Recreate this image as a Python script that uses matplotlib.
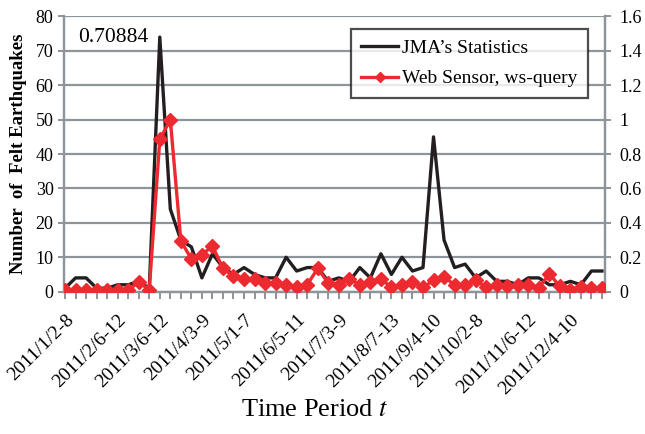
import numpy as np
import matplotlib.pyplot as plt
from matplotlib.lines import Line2D

plt.rcParams['font.family'] = ['Liberation Serif', 'DejaVu Serif']
plt.rcParams['mathtext.fontset'] = 'stix'

# weekly counts of felt earthquakes (JMA) and web sensor estimate
jma = [1, 4, 4, 1, 1, 2, 2, 3, 1, 74,
       24, 15, 13, 4, 11, 7, 5, 7, 5, 4,
       4, 10, 6, 7, 7, 3, 4, 3, 7, 4,
       11, 5, 10, 6, 7, 45, 15, 7, 8, 4,
       6, 3, 3, 2, 4, 4, 2, 2, 3, 2,
       6, 6]
web = [0.01, 0.01, 0.01, 0.01, 0.01, 0.01, 0.01, 0.055, 0.01, 0.885,
       1.0, 0.295, 0.19, 0.215, 0.265, 0.135, 0.09, 0.075, 0.075, 0.05,
       0.05, 0.04, 0.025, 0.04, 0.135, 0.05, 0.04, 0.075, 0.04, 0.055,
       0.075, 0.025, 0.04, 0.055, 0.025, 0.065, 0.085, 0.04, 0.04, 0.065,
       0.025, 0.04, 0.03, 0.04, 0.04, 0.02, 0.105, 0.03, 0.01, 0.025,
       0.02, 0.02]
tick_pos = [0, 5, 9, 13, 17, 22, 26, 31, 35, 39, 44, 48]
tick_labels = ['2011/1/2-8', '2011/2/6-12', '2011/3/6-12', '2011/4/3-9',
               '2011/5/1-7', '2011/6/5-11', '2011/7/3-9', '2011/8/7-13',
               '2011/9/4-10', '2011/10/2-8', '2011/11/6-12', '2011/12/4-10']

grey = '#8d949a'
x = np.arange(len(jma))

fig = plt.figure(figsize=(6.45, 4.34), dpi=100)
ax = fig.add_axes([0.0992, 0.328, 0.839, 0.634])
ax2 = ax.twinx()

ax.set_ylim(0, 80)
ax.set_yticks(range(0, 81, 10))
ax2.set_ylim(0, 1.6)
ax2.set_yticks(np.arange(0, 1.61, 0.2))
ax2.set_yticklabels(['{:g}'.format(round(v, 1)) for v in np.arange(0, 1.61, 0.2)])
ax.set_xlim(-0.1, 51.3)

ax.grid(axis='y', color=grey, lw=1.6)
ax.set_axisbelow(True)
for a in (ax, ax2):
    for s in a.spines.values():
        s.set_color(grey)
        s.set_linewidth(1.6)
    a.spines['top'].set_visible(False)
    a.tick_params(colors='black', labelsize=13, width=1.4, length=4)
    a.tick_params(axis='both', color=grey)
ax2.tick_params(axis='y', pad=6)

ax.plot(x, jma, color='#231f20', lw=2.4, zorder=3)
ax2.plot(x, web, color='#ed2a2f', lw=2.4, marker='D', ms=7, zorder=4)

labels = [''] * len(jma)
for p, t in zip(tick_pos, tick_labels):
    labels[p] = t
ax.set_xticks(x)
ax.set_xticklabels(labels, rotation=45, ha='right', rotation_mode='anchor', fontsize=14)
ax.tick_params(axis='x', length=5, pad=9)

ax.set_ylabel('Number  of  Felt Earthquakes', fontsize=13.5, fontweight='bold', labelpad=6)
fig.text(0.488, 0.055, 'Time Period $t$', ha='center', va='center', fontsize=19)
ax.text(0.026, 0.922, '0.70884', transform=ax.transAxes, fontsize=15.5, va='center')

handles = [Line2D([], [], color='#231f20', lw=2.4),
           Line2D([], [], color='#ed2a2f', lw=2.4, marker='D', ms=5)]
leg = ax.legend(handles, ['JMA\u2019s Statistics', 'Web Sensor, ws-query'],
                loc='upper right', bbox_to_anchor=(0.969, 0.955), fontsize=14,
                frameon=True, fancybox=False, edgecolor='#231f20',
                handlelength=1.9, handletextpad=0.2, borderpad=0.55,
                labelspacing=0.65, borderaxespad=0)
leg.get_frame().set_linewidth(1.6)
leg.set_zorder(10)

fig.savefig('out.png', dpi=100)
